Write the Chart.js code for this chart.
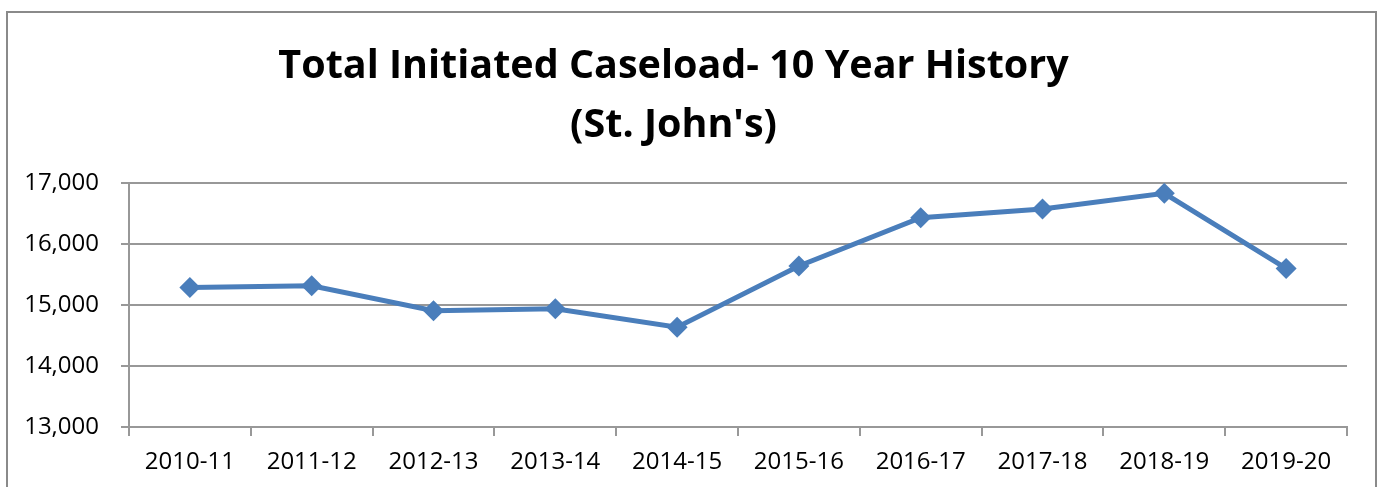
<!DOCTYPE html>
<html>
<head>
<meta charset="utf-8">
<script src="https://cdn.jsdelivr.net/npm/chart.js@4.4.1/dist/chart.umd.min.js"></script>
<style>
  html, body { margin: 0; padding: 0; background: #fff; }
  #wrap { position: relative; width: 1380px; height: 487px; }
</style>
</head>
<body>
<div id="wrap"><canvas id="c" width="1380" height="487"></canvas></div>
<script>
const categories = ['2010-11', '2011-12', '2012-13', '2013-14', '2014-15', '2015-16', '2016-17', '2017-18', '2018-19', '2019-20'];
const caseload = [15285, 15315, 14905, 14940, 14635, 15640, 16430, 16575, 16830, 15600];
const titleLines = ['Total Initiated Caseload- 10 Year History', "(St. John's)"];
const yMin = 13000;
const yMax = 17000;
const yStep = 1000;

const frame = {
  id: 'frame',
  afterDraw(chart) {
    const ctx = chart.ctx;
    ctx.save();
    ctx.strokeStyle = '#8a8a8a';
    ctx.lineWidth = 2;
    ctx.strokeRect(7, 12, 1369, 600);
    ctx.restore();
  }
};

const gridColor = '#989898';

new Chart(document.getElementById('c'), {
  type: 'line',
  data: {
    labels: categories,
    datasets: [{
      data: caseload,
      borderColor: '#4A7EBB',
      backgroundColor: '#4A7EBB',
      borderWidth: 5,
      pointStyle: 'rectRot',
      pointRadius: 10.5,
      pointHoverRadius: 10.5,
      pointBorderWidth: 0,
      tension: 0,
      fill: false
    }]
  },
  plugins: [frame],
  options: {
    responsive: false,
    animation: false,
    layout: { padding: { left: 0, right: 33, top: 0, bottom: 0 } },
    plugins: {
      legend: { display: false },
      tooltip: { enabled: false },
      title: {
        display: true,
        text: titleLines,
        color: '#000',
        font: { family: 'Open Sans', weight: 'bold', size: 39.5, lineHeight: 59 / 39.5 },
        padding: { top: 37, bottom: 28 }
      }
    },
    scales: {
      x: {
        type: 'category',
        offset: true,
        grid: {
          offset: true,
          drawOnChartArea: false,
          drawTicks: true,
          tickLength: 9,
          color: gridColor,
          lineWidth: 2
        },
        border: { display: true, color: gridColor, width: 2 },
        ticks: {
          color: '#000',
          font: { family: 'Open Sans', size: 24 },
          padding: 12,
          maxRotation: 0,
          autoSkip: false
        },
        afterFit(scale) { scale.height = 60; }
      },
      y: {
        min: yMin,
        max: yMax,
        ticks: {
          stepSize: yStep,
          color: '#000',
          font: { family: 'Open Sans', size: 24 },
          padding: 22,
          callback: (v) => Number(v).toLocaleString('en-US')
        },
        grid: {
          drawTicks: true,
          tickLength: 8,
          color: gridColor,
          lineWidth: 2
        },
        border: { display: true, color: gridColor, width: 2 },
        afterFit(scale) { scale.width = 129; }
      }
    }
  }
});
</script>
</body>
</html>
